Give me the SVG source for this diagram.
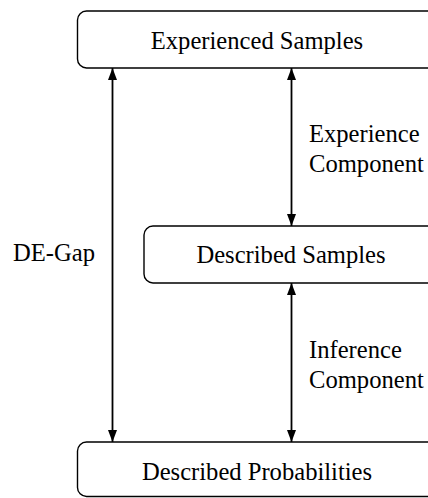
<svg xmlns="http://www.w3.org/2000/svg" width="428" height="498" viewBox="0 0 428 498">
<defs>
<marker id="ah" viewBox="0 0 12 10" refX="12" refY="5" markerWidth="12" markerHeight="10" markerUnits="userSpaceOnUse" orient="auto-start-reverse">
<path d="M0,0.5 L12,5 L0,9.5 Z" fill="#000"/>
</marker>
<style>
.box{fill:#fff;stroke:#000;stroke-width:1.4}
.t{font-family:"Liberation Serif","Times New Roman",serif;font-size:24.6px;fill:#000}
.c{text-anchor:middle}
.ln{stroke:#000;stroke-width:1.8;fill:none}
</style>
</defs>
<g id="connectors">
<line class="ln" x1="112.5" y1="68" x2="112.5" y2="442" marker-start="url(#ah)" marker-end="url(#ah)"/>
<line class="ln" x1="291.5" y1="68" x2="291.5" y2="226" marker-start="url(#ah)" marker-end="url(#ah)"/>
<line class="ln" x1="291.5" y1="283" x2="291.5" y2="442" marker-start="url(#ah)" marker-end="url(#ah)"/>
</g>
<g id="experienced-samples">
<rect class="box" x="77.5" y="11" width="370" height="57" rx="9"/>
<text class="t c" x="257" y="48.5">Experienced Samples</text>
</g>
<g id="described-samples">
<rect class="box" x="144" y="226" width="305" height="57" rx="9"/>
<text class="t c" x="291" y="263">Described Samples</text>
</g>
<g id="described-probabilities">
<rect class="box" x="77.5" y="442" width="370" height="54.5" rx="9"/>
<text class="t c" x="257" y="479.5">Described Probabilities</text>
</g>
<g id="labels">
<text class="t" x="309" y="142">Experience</text>
<text class="t" x="309" y="172">Component</text>
<text class="t" x="309" y="358">Inference</text>
<text class="t" x="309" y="388">Component</text>
<text class="t" x="13" y="261">DE-Gap</text>
</g>
</svg>
